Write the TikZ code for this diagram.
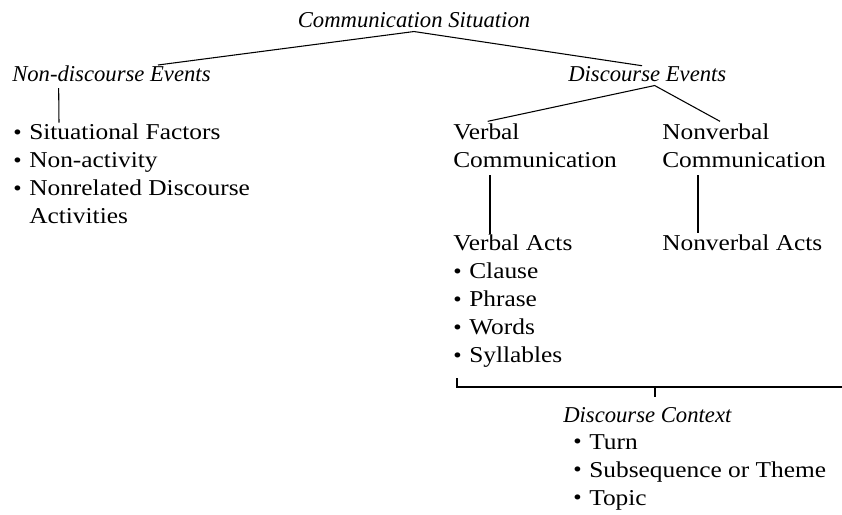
\documentclass[tikz,border=0pt]{standalone}
\usepackage{fontspec}
\setmainfont{Liberation Serif}[FakeStretch=1.12, ItalicFeatures={FakeStretch=1.0}]

\newcommand{\blt}{\makebox[12pt][l]{\raisebox{0.3pt}{\fontsize{16}{16}\selectfont\textbullet}}}

\tikzset{
  txt/.style = {inner sep=0pt, anchor=base west, align=left, font=\fontsize{17}{21}\selectfont},
  head/.style = {txt, font=\fontsize{17}{21}\selectfont\itshape},
  block/.style = {txt, anchor=north west},
  lin/.style = {line width=0.8pt}
}

\begin{document}
\begin{tikzpicture}[x=0.75pt, y=-0.75pt]
			\useasboundingbox (0,0) rectangle (842,514);
			% arrel
			\node[head, anchor=base] (root) at (414,27) {Communication Situation};
			\node[head] (nde) at (12,81) {Non-discourse Events};
			\node[head] (de) at (568,81) {Discourse Events};
			\draw[lin] ([xshift=109.5pt]nde.north west) -- ([yshift=-3pt]root.south) -- ([xshift=55.5pt]de.north west);
			% branca esquerra
			\node[block] (ndl) at (13,124) {\blt Situational Factors\\ \blt Non-activity\\ \blt Nonrelated Discourse\\ \makebox[12pt]{}Activities};
			\draw[lin] ([xshift=35pt, yshift=-5pt]nde.south west) -- ([xshift=34.5pt, yshift=1pt]ndl.north west);
			% branca dreta
			\node[block] (vc) at (453,124) {Verbal\\Communication};
			\node[block] (nvc) at (662,124) {Nonverbal\\Communication};
			\draw[lin] ([xshift=26pt, yshift=2pt]vc.north west) -- ([xshift=65pt, yshift=-3pt]de.south west) -- ([xshift=43.5pt, yshift=2pt]nvc.north west);
			% actes
			\node[block] (va) at (453,235) {Verbal Acts\\ \blt Clause\\ \blt Phrase\\ \blt Words\\ \blt Syllables};
			\node[txt] (nva) at (662,250) {Nonverbal Acts};
			\draw[lin] ([xshift=27.75pt, yshift=-5pt]vc.south west) -- ([xshift=27.75pt, yshift=1pt]va.north west);
			\draw[lin] ([xshift=27pt, yshift=-5pt]nvc.south west) -- ([xshift=27pt, yshift=1pt]nva.north west);
			% context
			\node[head] (dc) at (563,422) {Discourse Context};
			\node[block] (dcl) at (573,434) {\blt Turn\\ \blt Subsequence or Theme\\ \blt Topic};
			\coordinate (brk) at (842,387);
			\draw[lin] ([xshift=3pt, yshift=-7.5pt]va.south west) |- (brk);
			\draw[lin] ([xshift=69pt, yshift=13.9pt]dc.north west) -- ([xshift=69pt, yshift=7pt]dc.north west);
		\end{tikzpicture}
\end{document}
